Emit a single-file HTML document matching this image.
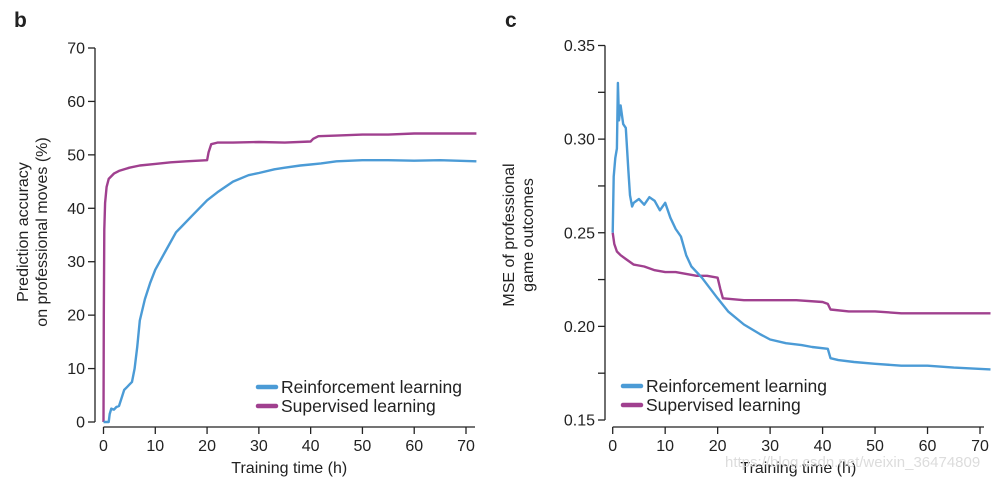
<!DOCTYPE html>
<html><head><meta charset="utf-8"><style>
body{margin:0;background:#fff;}
svg text{font-family:"Liberation Sans",Arial,sans-serif;fill:#222;}
</style></head><body>
<svg id="c" width="1006" height="481"></svg>
<script>
const leftRLt=[0,1,1.2,1.5,2,2.5,3,3.5,4,4.5,5,5.5,6,6.5,7,8,9,10,12,14,15,17,20,22,25,28,30,33,35,38,40,42,45,50,55,60,65,72];
const leftRLv=[0,0,1.5,2.5,2.3,2.8,3,4.5,6,6.5,7,7.5,10,14,19,23,26,28.5,32,35.5,36.5,38.5,41.5,43,45,46.2,46.6,47.3,47.6,48,48.2,48.4,48.8,49,49,48.9,49,48.8];
const leftSLt=[0,0.05,0.15,0.3,0.6,1,2,3,5,7,10,13,16,20,20.3,20.8,22,25,30,35,40,40.5,41.5,45,50,55,60,65,72];
const leftSLv=[0,20,36,41,44,45.5,46.5,47,47.6,48,48.3,48.6,48.8,49,50.5,52,52.3,52.3,52.4,52.3,52.5,53,53.5,53.6,53.8,53.8,54,54,54];
const rightRLt=[0,0.2,0.5,0.8,1.0,1.2,1.5,2,2.5,3,3.3,3.7,4,5,6,7,8,9,10,11,12,13,14,15,17,20,22,25,28,30,33,36,38,41,41.5,43,46,50,55,60,65,72];
const rightRLv=[0.25,0.28,0.29,0.295,0.33,0.31,0.318,0.308,0.306,0.283,0.27,0.264,0.266,0.268,0.265,0.269,0.267,0.262,0.266,0.258,0.252,0.248,0.238,0.232,0.226,0.215,0.208,0.201,0.196,0.193,0.191,0.19,0.189,0.188,0.183,0.182,0.181,0.18,0.179,0.179,0.178,0.177];
const rightSLt=[0,0.3,0.8,1.5,2.5,4,6,8,10,12,14,16,18,20,20.5,21,25,30,35,40,41,41.5,45,50,55,60,65,72];
const rightSLv=[0.25,0.244,0.24,0.238,0.236,0.233,0.232,0.23,0.229,0.229,0.228,0.227,0.227,0.226,0.22,0.215,0.214,0.214,0.214,0.213,0.212,0.209,0.208,0.208,0.207,0.207,0.207,0.207];
const leftYTicks=[0,10,20,30,40,50,60,70];
const rightYTicks=[0.15,0.20,0.25,0.30,0.35];
const xTicks=[0,10,20,30,40,50,60,70];

const NS="http://www.w3.org/2000/svg", svg=document.getElementById('c');
function el(tag,attrs,parent,text){const e=document.createElementNS(NS,tag);for(const k in attrs)e.setAttribute(k,attrs[k]);if(text!==undefined)e.textContent=text;(parent||svg).appendChild(e);return e;}
const BLUE="#4b9bd6",PURP="#a0408f";

function panel(o){
  const g=el('g',{});
  
  
  const sx=v=>o.x0+(v)*(o.x70-o.x0)/70;
  const sy=v=>o.yb+(v-o.ymin)*(o.yt-o.yb)/(o.ymax-o.ymin);
  const ax=el('path',{d:`M${o.yaxX},${o.yt} V${sy(o.ymin)} M${o.x0},${o.xaxY} H${o.xend}`,stroke:'#222','stroke-width':1.3,fill:'none'},g);
  
  
  o.yticks.forEach((v,i)=>{
    el('line',{x1:o.yaxX-7,x2:o.yaxX,y1:sy(v),y2:sy(v),stroke:'#222','stroke-width':1.3},g);
    const t=el('text',{x:o.yaxX-10,y:sy(v)+5.5,'text-anchor':'end','font-size':16},g,o.fmt(v));
    
    
    if(o.minor&&i<o.yticks.length-1){const m=(v+o.yticks[i+1])/2;el('line',{x1:o.yaxX-7,x2:o.yaxX,y1:sy(m),y2:sy(m),stroke:'#222','stroke-width':1.3},g);}
  });
  xTicks.forEach(v=>{
    el('line',{x1:sx(v),x2:sx(v),y1:o.xaxY,y2:o.xaxY+7,stroke:'#222','stroke-width':1.3},g);
    const t=el('text',{x:sx(v),y:o.xaxY+24,'text-anchor':'middle','font-size':16},g,String(v));
    
    
  });
  const xt=el('text',{x:(o.x0+o.xend)/2,y:o.xaxY+46,'text-anchor':'middle','font-size':16},g,'Training time (h)');
  
  
  const yt=el('text',{transform:`translate(${o.ytx},${o.yty}) rotate(-90)`,'text-anchor':'middle','font-size':16},g);
  
  
  el('tspan',{x:0,dy:0},yt,o.ytitle[0]);el('tspan',{x:0,dy:19},yt,o.ytitle[1]);
  const lbl=el('text',{x:o.lx,y:27,'font-size':21,'font-weight':'bold'},g,o.letter);
  
  
  [[o.sl,PURP,'supervised-line'],[o.rl,BLUE,'reinforcement-line']].forEach(([s,c,n])=>{
    const p=el('path',{d:s[0].map((t,i)=>(i?'L':'M')+sx(t).toFixed(1)+','+sy(s[1][i]).toFixed(1)).join(''),stroke:c,'stroke-width':2.4,fill:'none','stroke-linejoin':'round'},g);
    
    
  });
  [['Reinforcement learning',BLUE,0],['Supervised learning',PURP,1]].forEach(([txt,c,i])=>{
    const lg=el('g',{},g);
    
    
    const y=o.legY+i*19;
    el('line',{x1:o.legX,x2:o.legX+18,y1:y,y2:y,stroke:c,'stroke-width':4.5,'stroke-linecap':'round'},lg);
    el('text',{x:o.legX+23,y:y+6,'font-size':17.5},lg,txt);
  });
}
panel({name:'accuracy-chart',x0:103.5,x70:466,xend:475,xaxY:427,yaxX:95,yt:48,yb:422,ymin:0,ymax:70,yticks:leftYTicks,fmt:v=>String(v),
  ytx:28,yty:232,ytitle:['Prediction accuracy','on professional moves (%)'],lx:14,letter:'b',
  rl:[leftRLt,leftRLv],sl:[leftSLt,leftSLv],legX:258,legY:387,minor:false});
panel({name:'mse-chart',x0:612.7,x70:980,xend:984,xaxY:427,yaxX:605,yt:45.5,yb:420,ymin:0.15,ymax:0.35,yticks:rightYTicks,fmt:v=>v.toFixed(2),
  ytx:514,yty:235,ytitle:['MSE of professional','game outcomes'],lx:505,letter:'c',
  rl:[rightRLt,rightRLv],sl:[rightSLt,rightSLv],legX:623,legY:386,minor:true});
const wm=el('text',{x:725,y:467,'font-size':15,style:'fill:#dcdcdc'},svg,'https://blog.csdn.net/weixin_36474809');


</script>
</body></html>
